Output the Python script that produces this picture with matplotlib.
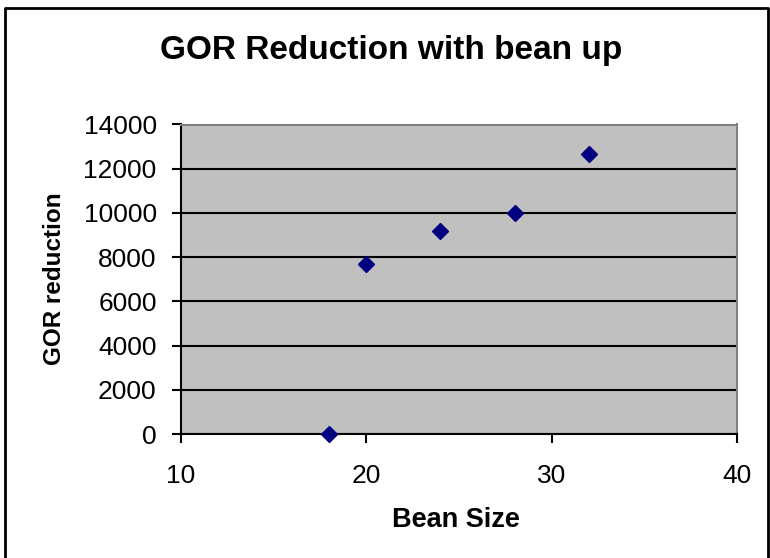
import matplotlib
matplotlib.use("Agg")
import matplotlib.pyplot as plt
from matplotlib.lines import Line2D

bean_size = [18, 20, 24, 28, 32]
gor_reduction = [0, 7700, 9180, 10000, 12660]
x_ticks = [10, 20, 30, 40]
y_ticks = [0, 2000, 4000, 6000, 8000, 10000, 12000, 14000]

plt.rcParams['font.family'] = ['Liberation Sans', 'DejaVu Sans']

W, H = 770, 558
fig = plt.figure(figsize=(W / 100, H / 100), dpi=100)
fig.patch.set_facecolor('white')

# outer chart border (left, top, right)
fx = lambda px: px / W
fy = lambda py: 1 - py / H
fig.lines.append(Line2D([fx(5), fx(5), fx(768), fx(768)],
                        [fy(560), fy(8), fy(8), fy(560)],
                        transform=fig.transFigure, color='black', linewidth=2))

ax = fig.add_axes([181 / W, 1 - 434 / H, (737 - 181) / W, (434 - 124.5) / H])
ax.set_facecolor('#C0C0C0')
ax.set_xlim(10, 40)
ax.set_ylim(0, 14000)
ax.set_xticks(x_ticks)
ax.set_yticks(y_ticks)
ax.yaxis.grid(True, color='black', linewidth=1.5)
ax.set_axisbelow(True)
for s in ['top', 'right']:
    ax.spines[s].set_color('#808080')
    ax.spines[s].set_linewidth(1.5)
for s in ['left', 'bottom']:
    ax.spines[s].set_color('black')
    ax.spines[s].set_linewidth(1.5)
ax.tick_params(direction='out', length=6.5, width=1.5, labelsize=19, color='black')
ax.tick_params(axis='y', pad=11)
ax.tick_params(axis='x', pad=15)

ax.plot(bean_size, gor_reduction, linestyle='none', marker='D', markersize=8,
        color='#000080', clip_on=False, zorder=5)

fig.text(391 / W, 1 - 50 / H, 'GOR Reduction with bean up', ha='center', va='center',
         fontsize=24, fontweight='bold')
fig.text(456 / W, 1 - 520 / H, 'Bean Size', ha='center', va='center',
         fontsize=19.5, fontweight='bold')
fig.text(55 / W, 1 - 279 / H, 'GOR reduction', ha='center', va='center',
         fontsize=17.5, fontweight='bold', rotation=90)

fig.savefig('out.png', dpi=100)
